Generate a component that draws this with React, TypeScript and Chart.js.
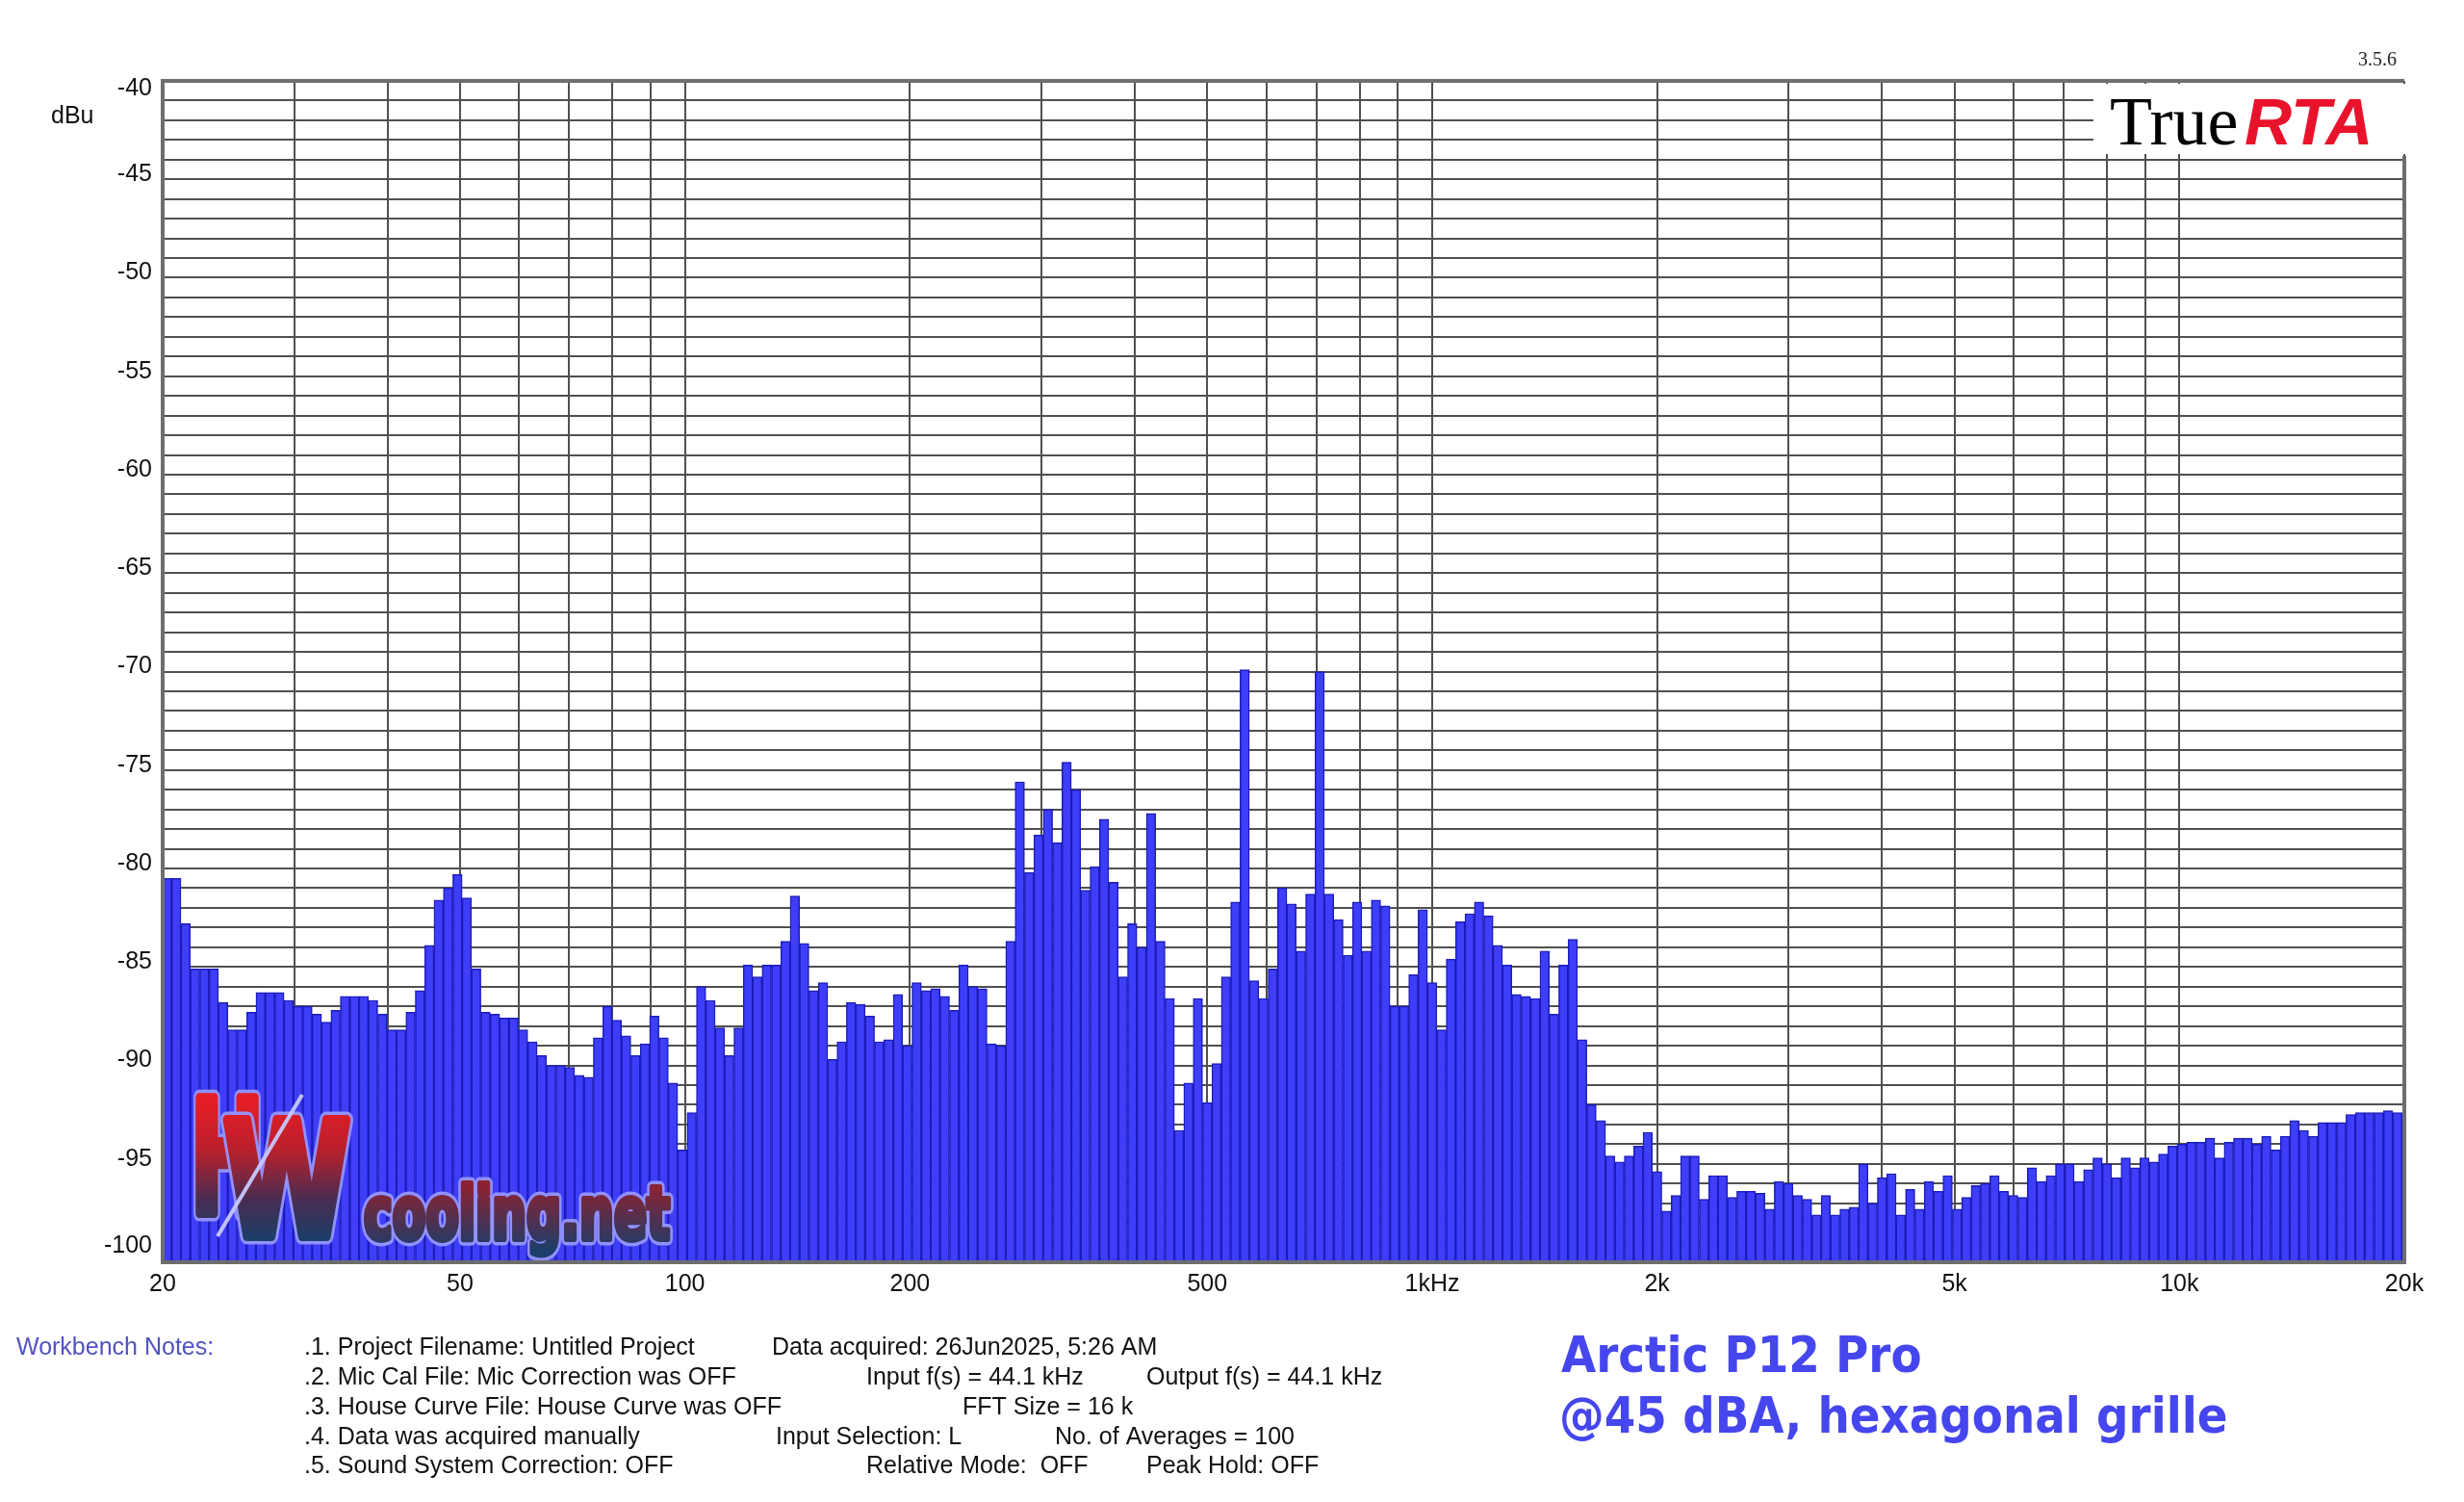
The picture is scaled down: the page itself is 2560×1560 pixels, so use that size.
import React, { useEffect, useRef } from "react";
import { Chart, registerables } from "chart.js";

Chart.register(...registerables);

// 1/24-octave bands, index relative to 1 kHz (first band sits at ~20 Hz)
const FIRST_BAND = -135;
const BANDS_PER_OCTAVE = 24;

// band levels in dBu, left to right
const levels: number[] = [
  -80.5, -80.5, -82.8, -85.1, -85.1, -85.1, -86.8, -88.2, -88.2, -87.3,
  -86.3, -86.3, -86.3, -86.7, -87.0, -87.0, -87.4, -87.8, -87.2, -86.5,
  -86.5, -86.5, -86.7, -87.4, -88.2, -88.2, -87.3, -86.2, -83.9, -81.6,
  -81.0, -80.3, -81.5, -85.1, -87.3, -87.4, -87.6, -87.6, -88.2, -88.8,
  -89.5, -90.0, -90.0, -90.1, -90.5, -90.6, -88.6, -87.0, -87.7, -88.5,
  -89.5, -88.9, -87.5, -88.6, -90.9, -94.3, -92.4,
  -86.0, -86.7, -88.1, -89.5, -88.1, -84.9, -85.5, -84.9, -84.9, -83.7,
  -81.4, -83.8, -86.2, -85.8, -89.7, -88.8, -86.8, -86.9, -87.5, -88.8,
  -88.7, -86.4, -89.0, -85.8, -86.2, -86.1, -86.5, -87.2, -84.9, -86.0,
  -86.1, -88.9, -89.0, -83.7,
  -75.6, -80.2, -78.3, -77.0, -78.7, -74.6, -76.0, -81.1, -79.9, -77.5,
  -80.7, -85.5, -82.8, -84.0, -77.2, -83.7, -86.6, -93.3, -90.9, -86.6,
  -91.9, -89.9, -85.5, -81.7, -69.9, -85.7, -86.6, -85.1, -81.0, -81.8,
  -84.2, -81.3, -70.0, -81.3, -82.6, -84.4, -81.7, -84.2, -81.6,
  -81.9, -87.0, -87.0, -85.4, -82.1, -85.8, -88.2, -84.6, -82.7, -82.3,
  -81.7, -82.4, -83.9, -84.9, -86.4, -86.5, -86.6, -84.2, -87.4, -84.9,
  -83.6, -88.7, -92.0, -92.8, -94.6, -94.9, -94.6, -94.1, -93.4, -95.4,
  -97.4, -96.6, -94.6, -94.6, -96.8, -95.6, -95.6,
  -96.7, -96.4, -96.4, -96.5, -97.3, -95.9, -96.0, -96.6, -96.8, -97.6,
  -96.6, -97.6, -97.3, -97.2, -95.0, -97.0, -95.7, -95.5, -97.6, -96.3,
  -97.3, -95.9, -96.4, -95.6, -97.3, -96.7, -96.1, -96.0, -95.6, -96.4,
  -96.6, -96.7, -95.2, -95.9, -95.6, -95.0,
  -95.0, -95.9, -95.3, -94.7, -95.0, -95.7, -94.7, -95.2, -94.7, -94.9,
  -94.5, -94.1, -94.0, -93.9, -93.9, -93.7, -94.7, -93.9, -93.7, -93.7,
  -94.0, -93.6, -94.3, -93.6, -92.8, -93.3, -93.6, -92.9, -92.9, -92.9,
  -92.5, -92.4, -92.4, -92.4, -92.3, -92.4,
];

const gridFreqs = [
  20, 30, 40, 50, 60, 70, 80, 90, 100, 200, 300, 400, 500, 600, 700, 800, 900,
  1000, 2000, 3000, 4000, 5000, 6000, 7000, 8000, 9000, 10000, 20000,
];
const labeledFreqs = [20, 50, 100, 200, 500, 1000, 2000, 5000, 10000, 20000];
const freqLabels = ["20", "50", "100", "200", "500", "1kHz", "2k", "5k", "10k", "20k"];

const dbMin = -100;
const dbMax = -40;
const labeledDb = [-40, -45, -50, -55, -60, -65, -70, -75, -80, -85, -90, -95, -100];

const notesLeft = [
  ".1. Project Filename: Untitled Project",
  ".2. Mic Cal File: Mic Correction was OFF",
  ".3. House Curve File: House Curve was OFF",
  ".4. Data was acquired manually",
  ".5. Sound System Correction: OFF",
];

const SANS = "'Liberation Sans', Arial, sans-serif";
const SERIF = "'Liberation Serif', 'Times New Roman', serif";
const COND = "'DejaVu Sans Condensed', 'DejaVu Sans', sans-serif";

const bandCenters = levels.map((_, i) => 1000 * Math.pow(2, (FIRST_BAND + i) / BANDS_PER_OCTAVE));

function put(ctx: CanvasRenderingContext2D, s: string, x: number, y: number, font: string, color: string, w?: number) {
  ctx.font = font;
  ctx.fillStyle = color;
  ctx.textAlign = "left";
  ctx.textBaseline = "middle";
  if (w) ctx.fillText(s, x, y, w);
  else ctx.fillText(s, x, y);
}

// heavy letter with a pale blue halo
function logoText(ctx: CanvasRenderingContext2D, s: string, x: number, y: number, font: string, w: number, fill: CanvasGradient, thick: number) {
  ctx.font = font;
  ctx.lineJoin = "round";
  ctx.strokeStyle = "rgba(150,150,255,0.95)";
  ctx.lineWidth = thick + 7;
  ctx.strokeText(s, x, y, w);
  ctx.strokeStyle = fill;
  ctx.lineWidth = thick;
  ctx.strokeText(s, x, y, w);
  ctx.fillStyle = fill;
  ctx.fillText(s, x, y, w);
}

const decor = {
  id: "rtaDecor",
  afterDatasetsDraw(chart: any) {
    const ctx: CanvasRenderingContext2D = chart.ctx;
    ctx.save();
    ctx.textBaseline = "alphabetic";
    ctx.textAlign = "left";
    // HWcooling.net watermark
    const g = ctx.createLinearGradient(0, 1145, 0, 1288);
    g.addColorStop(0, "#e51d26");
    g.addColorStop(0.35, "#b8202c");
    g.addColorStop(0.7, "#4a2c50");
    g.addColorStop(1, "#1b3e6a");
    logoText(ctx, "H", 198, 1260, `bold 164px ${COND}`, 76, g, 10);
    logoText(ctx, "W", 232, 1284, `bold 166px ${COND}`, 132, g, 10);
    const g2 = ctx.createLinearGradient(0, 1232, 0, 1298);
    g2.addColorStop(0, "#8c2232");
    g2.addColorStop(1, "#1d3d6a");
    logoText(ctx, "cooling.net", 378, 1287, `bold 76px ${COND}`, 318, g2, 6);
    ctx.strokeStyle = "rgba(200,200,255,0.95)";
    ctx.lineWidth = 4;
    ctx.beginPath();
    ctx.moveTo(314, 1137);
    ctx.lineTo(226, 1284);
    ctx.stroke();
    ctx.restore();
  },
  afterDraw(chart: any) {
    const ctx: CanvasRenderingContext2D = chart.ctx;
    const a = chart.chartArea;
    const ys = chart.scales.y;
    ctx.save();
    // TrueRTA logo box
    ctx.fillStyle = "#ffffff";
    ctx.fillRect(2175, a.top + 3, a.right - 2175 + 4, 160 - a.top - 3);
    // plot frame
    ctx.strokeStyle = "#6e6e6e";
    ctx.lineWidth = 4;
    ctx.beginPath();
    ctx.moveTo(a.right, a.top);
    ctx.lineTo(a.left, a.top);
    ctx.lineTo(a.left, a.bottom);
    ctx.lineTo(a.right, a.bottom);
    ctx.lineTo(a.right, 162);
    ctx.stroke();

    ctx.textBaseline = "alphabetic";
    ctx.textAlign = "left";
    ctx.font = `72px ${SERIF}`;
    ctx.fillStyle = "#000000";
    ctx.fillText("True", 2192, 150, 138);
    ctx.font = `italic bold 68px ${SANS}`;
    ctx.fillStyle = "#e8132b";
    ctx.fillText("RTA", 2332, 150, 146);
    ctx.font = `20px ${SERIF}`;
    ctx.fillStyle = "#222222";
    ctx.textAlign = "right";
    ctx.fillText("3.5.6", 2490, 68);

    // dB labels sit a little above their lines, end labels pulled inside
    ctx.font = `25px ${SANS}`;
    ctx.fillStyle = "#111111";
    ctx.textBaseline = "middle";
    ctx.textAlign = "right";
    labeledDb.forEach((v) => {
      let y = ys.getPixelForValue(v) - 5;
      if (v === dbMax) y = a.top + 8;
      if (v === dbMin) y = a.bottom - 17;
      ctx.fillText(String(v), a.left - 11, y);
    });

    put(ctx, "dBu", 53, 121, `25px ${SANS}`, "#111111");

    // workbench notes
    const f = `25px ${SANS}`;
    const k = "#111111";
    const rows = [1400, 1431, 1462, 1493, 1523];
    put(ctx, "Workbench Notes:", 17, rows[0], f, "#5252c4", 216);
    const leftW = [416, 459, 512, 367, 399];
    notesLeft.forEach((s, i) => put(ctx, s, 316, rows[i], f, k, leftW[i]));
    put(ctx, "Data acquired: 26Jun2025, 5:26 AM", 802, rows[0], f, k, 418);
    put(ctx, "Input f(s) = 44.1 kHz", 900, rows[1], f, k, 230);
    put(ctx, "Output f(s) = 44.1 kHz", 1191, rows[1], f, k, 252);
    put(ctx, "FFT Size = 16 k", 1000, rows[2], f, k, 182);
    put(ctx, "Input Selection: L", 806, rows[3], f, k, 199);
    put(ctx, "No. of Averages = 100", 1096, rows[3], f, k, 255);
    put(ctx, "Relative Mode:  OFF", 900, rows[4], f, k, 238);
    put(ctx, "Peak Hold: OFF", 1191, rows[4], f, k, 187);

    // title
    ctx.textAlign = "left";
    ctx.textBaseline = "alphabetic";
    ctx.font = `bold 52px ${COND}`;
    ctx.fillStyle = "#4646ee";
    ctx.fillText("Arctic P12 Pro", 1622, 1425, 384);
    ctx.fillText("@45 dBA, hexagonal grille", 1620, 1488, 706);
    ctx.restore();
  },
};

const App: React.FC = () => {
  const canvasRef = useRef<HTMLCanvasElement | null>(null);
  const chartRef = useRef<Chart | null>(null);

  useEffect(() => {
    if (canvasRef.current === null) return;
    const ctx = canvasRef.current.getContext("2d");
    if (ctx === null) return;

    chartRef.current = new Chart(ctx, {
      type: "bar",
      data: {
        datasets: [
          {
            data: levels.map((v, i) => ({ x: bandCenters[i], y: v })),
            base: dbMin,
            backgroundColor: "rgb(62,62,250)",
            borderColor: "rgb(28,28,185)",
            borderWidth: 1.5,
            borderSkipped: "start",
            barPercentage: 1,
            categoryPercentage: 1,
          } as any,
        ],
      },
      options: {
        responsive: false,
        devicePixelRatio: 1,
        animation: false,
        layout: { padding: { left: 0, right: 62, top: 84, bottom: 189 } },
        plugins: { legend: { display: false }, tooltip: { enabled: false } },
        scales: {
          x: {
            type: "logarithmic",
            min: 20,
            max: 20000,
            offset: false,
            afterBuildTicks: (s: any) => {
              s.ticks = gridFreqs.map((v) => ({ value: v }));
            },
            afterFit: (s: any) => {
              s.height = 60;
            },
            grid: { color: "#505050", lineWidth: 2, drawTicks: false, offset: false },
            border: { display: false },
            ticks: {
              autoSkip: false,
              maxRotation: 0,
              padding: 8,
              color: "#111111",
              font: { family: SANS, size: 25 },
              callback: (v: any) => {
                const i = labeledFreqs.indexOf(Number(v));
                return i >= 0 ? freqLabels[i] : "";
              },
            },
          },
          y: {
            type: "linear",
            min: dbMin,
            max: dbMax,
            afterBuildTicks: (s: any) => {
              const t = [];
              for (let v = dbMin; v <= dbMax; v++) t.push({ value: v });
              s.ticks = t;
            },
            afterFit: (s: any) => {
              s.width = 169;
            },
            grid: { color: "#505050", lineWidth: 2, drawTicks: false },
            border: { display: false },
            ticks: { display: false, autoSkip: false },
          },
        },
      },
      plugins: [decor],
    });

    return () => {
      if (chartRef.current !== null) {
        chartRef.current.destroy();
        chartRef.current = null;
      }
    };
  }, []);

  return (
    <div style={{ position: "fixed", left: 0, top: 0, width: 2560, height: 1560, background: "#ffffff" }}>
      <canvas ref={canvasRef} width={2560} height={1560} style={{ width: 2560, height: 1560 }}></canvas>
    </div>
  );
};

export default App;
